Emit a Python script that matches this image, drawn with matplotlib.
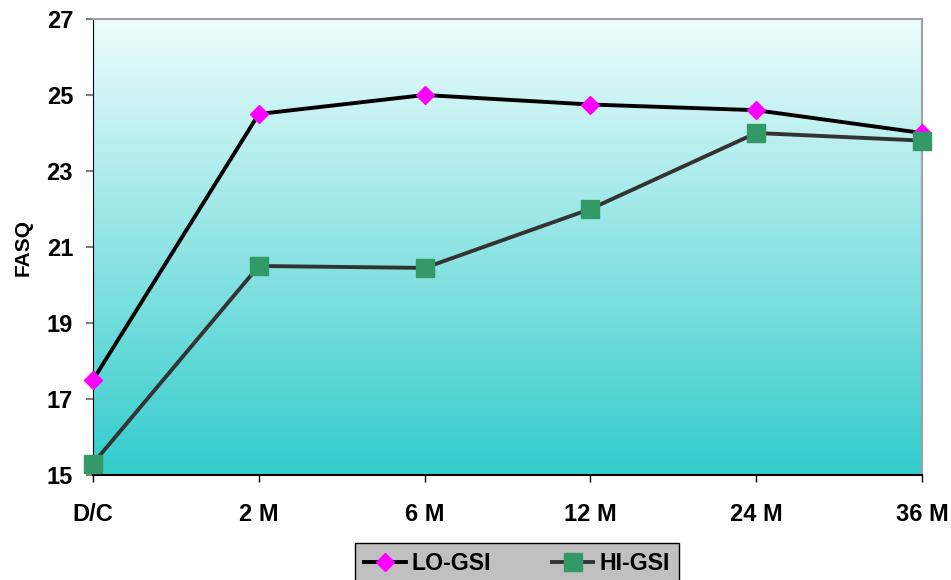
import numpy as np
import matplotlib.pyplot as plt
from matplotlib.colors import LinearSegmentedColormap

plt.rcParams['font.family'] = ['Liberation Sans', 'DejaVu Sans']
plt.rcParams['font.weight'] = 'bold'

# FASQ scores per follow-up time
periodos = ["D/C", "2 M", "6 M", "12 M", "24 M", "36 M"]
lo_gsi = [17.5, 24.5, 25.0, 24.75, 24.6, 24.0]
hi_gsi = [15.3, 20.5, 20.45, 22.0, 24.0, 23.8]
y_ticks = [15, 17, 19, 21, 23, 25, 27]

x = np.arange(len(periodos))

fig = plt.figure(figsize=(9.51, 5.80), dpi=100)
ax = fig.add_axes([93 / 951, 1 - 475 / 580, 829 / 951, 456 / 580])

# vertical gradient background
grad = LinearSegmentedColormap.from_list("fundo", ["#33CCCC", "#EDFCFC"])
ax.imshow(np.linspace(0, 1, 256).reshape(-1, 1), cmap=grad, origin="lower",
          extent=[0, 5, 15, 27], aspect="auto", zorder=0)

ax.plot(x, lo_gsi, color="black", lw=2.8, marker="D", ms=9.3,
        mfc="#FF00FF", mec="#FF00FF", label="LO-GSI", clip_on=False, zorder=3)
ax.plot(x, hi_gsi, color="#333333", lw=2.8, marker="s", ms=13.5,
        mfc="#339966", mec="#339966", label="HI-GSI", clip_on=False, zorder=4)

ax.set_xlim(0, 5)
ax.set_ylim(15, 27)
ax.set_xticks(x)
ax.set_xticklabels(periodos, fontsize=17, fontweight="bold")
ax.set_yticks(y_ticks)
ax.set_yticklabels([str(v) for v in y_ticks], fontsize=17, fontweight="bold")
ax.tick_params(axis="x", length=5, width=1, color="black", pad=15)
ax.tick_params(axis="y", length=5, width=1.5, color="#808080", pad=9.4)
ax.set_ylabel("FASQ", fontsize=15, fontweight="bold", labelpad=10)

ax.spines["left"].set_color("black")
ax.spines["bottom"].set_color("black")
ax.spines["bottom"].set_linewidth(1.5)
ax.spines["top"].set_color("#A0A0A0")
ax.spines["right"].set_color("#A0A0A0")
ax.spines["top"].set_linewidth(1.5)
ax.spines["right"].set_linewidth(1.5)

leg = fig.legend(loc="upper center", bbox_to_anchor=(517 / 951, 1 - 543 / 580),
                 ncol=2, fontsize=16.7, frameon=True, fancybox=False,
                 handlelength=1.8, handletextpad=0.25, columnspacing=2.6,
                 borderpad=0.4, borderaxespad=0)
leg.get_frame().set_facecolor("#C0C0C0")
leg.get_frame().set_edgecolor("black")
leg.get_frame().set_alpha(1)
for t in leg.get_texts():
    t.set_fontweight("bold")

fig.savefig("out.png", dpi=100)
